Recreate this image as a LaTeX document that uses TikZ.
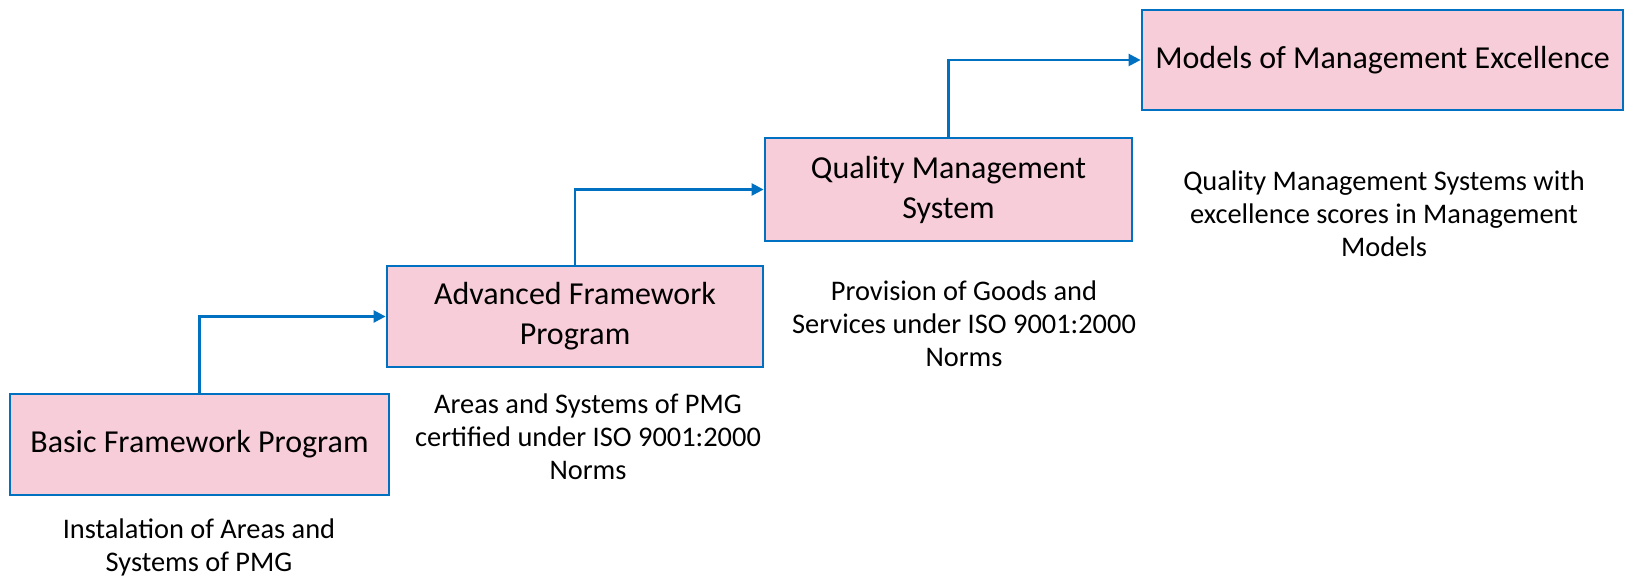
\documentclass[tikz,border=0pt]{standalone}
\usepackage{fontspec}
\setmainfont{Carlito}
\usetikzlibrary{arrows.meta}
\definecolor{stagepink}{HTML}{F8CDDA}
\definecolor{stageblue}{HTML}{0070C0}
\tikzset{
  stage/.style={draw=stageblue, fill=stagepink, line width=1.4pt, align=center,
    inner sep=0pt, font=\fontsize{16}{20}\selectfont},
  note/.style={align=center, font=\fontsize{14.2}{16.5}\selectfont},
  link/.style={draw=stageblue, line width=1.2pt, -{Triangle[length=6pt,width=6pt]}}
}

\begin{document}
\begin{tikzpicture}[x=0.5pt,y=-0.5pt]
    \useasboundingbox (0,0) rectangle (1625,576);

    % the four steps
    \node[stage, minimum width=189.5pt, minimum height=50.5pt] (basic) at (199.5,444.5) {Basic Framework Program};
    \node[stage, minimum width=188pt, minimum height=50.5pt] (advanced) at (575,316.5) {Advanced Framework\\Program};
    \node[stage, minimum width=183.5pt, minimum height=51.5pt] (quality) at (948.5,189.5) {Quality Management\\System};
    \node[stage, minimum width=240.5pt, minimum height=50pt] (models) at (1382.5,60) {Models of Management Excellence};

    % what each step stands for
    \node[note] (basicnote) at (199,547) {Instalation of Areas and\\Systems of PMG};
    \node[note] (advancednote) at (588,437) {Areas and Systems of PMG\\certified under ISO 9001:2000\\Norms};
    \node[note] (qualitynote) at (964,324) {Provision of Goods and\\Services under ISO 9001:2000\\Norms};
    \node[note] (modelsnote) at (1384,214) {Quality Management Systems with\\excellence scores in Management\\Models};

    % steps up
    \draw[link] (basic.north) |- (advanced.west);
    \draw[link] (advanced.north) |- (quality.west);
    \draw[link] (quality.north) |- (models.west);
  \end{tikzpicture}
\end{document}
